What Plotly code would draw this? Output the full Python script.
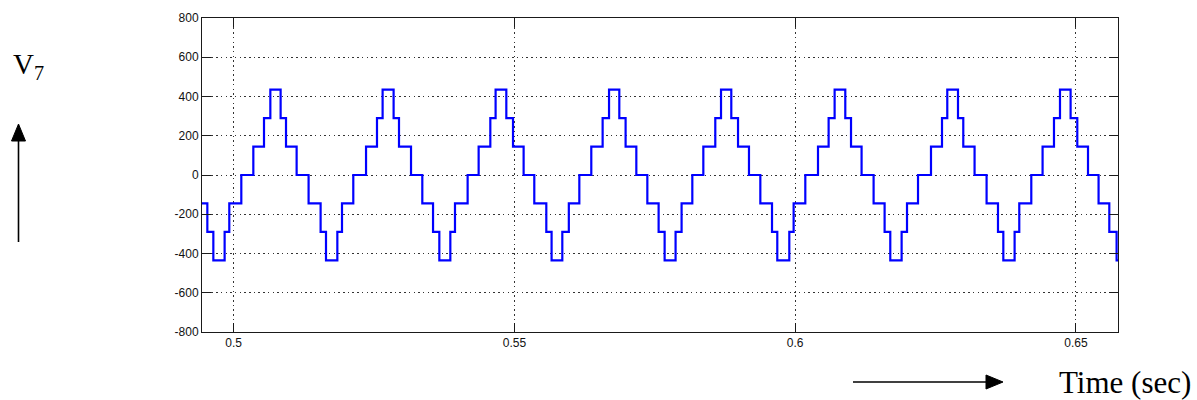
import plotly.graph_objects as go

# Step switching instants (s) of the seven-level output voltage
t_start = 0.49437
t_end = 0.65748
switch_times = [
    0.49532, 0.49639, 0.49840, 0.49923,
    0.50137, 0.50351, 0.50541, 0.50654, 0.50837, 0.50933, 0.51122, 0.51335, 0.51549, 0.51645, 0.51847, 0.51930,
    0.52131, 0.52358, 0.52553, 0.52653, 0.52849, 0.52945, 0.53159, 0.53360, 0.53551, 0.53663, 0.53859, 0.53942,
    0.54167, 0.54363, 0.54571, 0.54665, 0.54856, 0.54975, 0.55164, 0.55354, 0.55568, 0.55662, 0.55853, 0.55969,
    0.56156, 0.56369, 0.56571, 0.56685, 0.56868, 0.56980, 0.57171, 0.57367, 0.57568, 0.57675, 0.57870, 0.57977,
    0.58168, 0.58364, 0.58577, 0.58679, 0.58862, 0.58982, 0.59177, 0.59379, 0.59587, 0.59681, 0.59895, 0.59972,
    0.60180, 0.60406, 0.60595, 0.60702, 0.60892, 0.60994, 0.61182, 0.61396, 0.61592, 0.61693, 0.61895, 0.61991,
    0.62187, 0.62418, 0.62614, 0.62708, 0.62899, 0.62993, 0.63194, 0.63408, 0.63611, 0.63706, 0.63907, 0.63990,
    0.64204, 0.64405, 0.64608, 0.64715, 0.64904, 0.65023, 0.65214, 0.65402, 0.65593, 0.65723,
]
# Voltage level (V) held from the start and after each switching instant
v_initial = -145
levels = [
    -290, -435, -290, -145,
    0, 145, 290, 435, 290, 145, 0, -145, -290, -435, -290, -145,
    0, 145, 290, 435, 290, 145, 0, -145, -290, -435, -290, -145,
    0, 145, 290, 435, 290, 145, 0, -145, -290, -435, -290, -145,
    0, 145, 290, 435, 290, 145, 0, -145, -290, -435, -290, -145,
    0, 145, 290, 435, 290, 145, 0, -145, -290, -435, -290, -145,
    0, 145, 290, 435, 290, 145, 0, -145, -290, -435, -290, -145,
    0, 145, 290, 435, 290, 145, 0, -145, -290, -435, -290, -145,
    0, 145, 290, 435, 290, 145, 0, -145, -290, -435,
]

x_ticks = [0.5, 0.55, 0.6, 0.65]
x_ticklabels = ["0.5", "0.55", "0.6", "0.65"]
y_ticks = [-800, -600, -400, -200, 0, 200, 400, 600, 800]
y_ticklabels = [str(v) for v in y_ticks]

t = [t_start] + switch_times + [t_end]
v = [v_initial] + levels + [levels[-1]]

fig = go.Figure()
fig.add_trace(go.Scatter(
    x=t, y=v, mode="lines", line_shape="hv",
    line=dict(color="#0000FF", width=2.2),
    hoverinfo="skip", showlegend=False,
))

axis_common = dict(
    showline=True, linecolor="#1a1a1a", linewidth=1, mirror="ticks",
    ticks="inside", ticklen=9, tickwidth=1, tickcolor="#1a1a1a",
    showgrid=True, gridcolor="#333333", gridwidth=1, griddash="1.5px,3.2px",
    zeroline=False,
    tickfont=dict(family="Liberation Sans, Arial, sans-serif", size=12, color="#111111"),
)

fig.update_xaxes(range=[t_start, t_end], tickmode="array", tickvals=x_ticks,
                 ticktext=x_ticklabels, **axis_common)
fig.update_yaxes(range=[-800, 800], tickmode="array", tickvals=y_ticks,
                 ticktext=y_ticklabels, **axis_common)

L, R, T, B = 202, 79, 18, 68
W, H = 1197, 400
pw, ph = W - L - R, H - T - B


def px(x):
    return (x - L) / pw


def py(y):
    return (H - B - y) / ph


serif = "Times New Roman, Liberation Serif, serif"

# Axis captions with arrows
fig.add_annotation(x=px(11), y=py(66), xref="paper", yref="paper",
                   text="V<sub>7</sub>", showarrow=False, xanchor="left", yanchor="middle",
                   font=dict(family=serif, size=29, color="black"))
fig.add_annotation(x=px(1057), y=py(382), xref="paper", yref="paper",
                   text="Time (sec)", showarrow=False, xanchor="left", yanchor="middle",
                   font=dict(family=serif, size=31, color="black"))

fig.add_shape(type="line", xref="paper", yref="paper",
              x0=px(18.5), x1=px(18.5), y0=py(242), y1=py(138),
              line=dict(color="black", width=1.6))
fig.add_shape(type="path", xref="paper", yref="paper",
              path=f"M {px(18.5)},{py(124)} L {px(11.5)},{py(141)} L {px(25.5)},{py(141)} Z",
              fillcolor="black", line=dict(color="black", width=1))
fig.add_shape(type="line", xref="paper", yref="paper",
              x0=px(853), x1=px(990), y0=py(382), y1=py(382),
              line=dict(color="black", width=1.6))
fig.add_shape(type="path", xref="paper", yref="paper",
              path=f"M {px(1003)},{py(382)} L {px(986)},{py(375)} L {px(986)},{py(389)} Z",
              fillcolor="black", line=dict(color="black", width=1))

fig.update_layout(
    width=W, height=H,
    margin=dict(l=L, r=R, t=T, b=B),
    paper_bgcolor="white", plot_bgcolor="white",
    showlegend=False,
)

fig.write_html("out.html")
